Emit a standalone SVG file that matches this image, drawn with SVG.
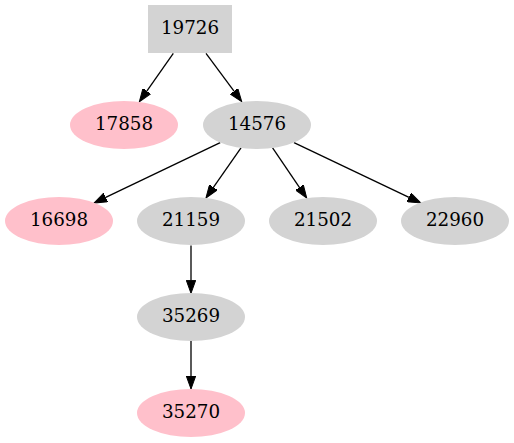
<svg xmlns="http://www.w3.org/2000/svg" width="514" height="443" viewBox="0 0 514 443">
<defs>
<style>
.g{fill:#d3d3d3}
.p{fill:#ffc0cb}
text{font-family:"DejaVu Serif",serif;font-size:18.3px;text-anchor:middle;fill:#000}
.e{stroke:#000;stroke-width:1.3;fill:none;marker-end:url(#a)}
</style>
<marker id="a" markerUnits="userSpaceOnUse" markerWidth="14" markerHeight="10" refX="0" refY="5" orient="auto">
<path d="M0,0.3 L13,5 L0,9.7 z" fill="#000" stroke="#000" stroke-width="1"/>
</marker>
</defs>
<rect width="514" height="443" fill="#fff"/>
<g id="edges">
<line class="e" x1="173.3" y1="53.3" x2="146.8" y2="91.1"/>
<line class="e" x1="206" y1="53.3" x2="234" y2="91.2"/>
<line class="e" x1="220.2" y1="142.6" x2="105.7" y2="197.4"/>
<line class="e" x1="241" y1="147.9" x2="213.4" y2="187.3"/>
<line class="e" x1="272.6" y1="147.9" x2="299.4" y2="187.3"/>
<line class="e" x1="294" y1="142.6" x2="409" y2="197.4"/>
<line class="e" x1="191" y1="245.5" x2="191" y2="280.3"/>
<line class="e" x1="191" y1="341" x2="191" y2="376"/>
</g>
<g id="n19726"><rect class="g" x="148" y="5" width="84" height="48"/><text x="190" y="34">19726</text></g>
<g id="n17858"><ellipse class="p" cx="124" cy="125" rx="54" ry="24"/><text x="124" y="130">17858</text></g>
<g id="n14576"><ellipse class="g" cx="257" cy="125" rx="54" ry="24"/><text x="257" y="130">14576</text></g>
<g id="n16698"><ellipse class="p" cx="59" cy="221" rx="54" ry="24"/><text x="59" y="226">16698</text></g>
<g id="n21159"><ellipse class="g" cx="191" cy="221" rx="54" ry="24"/><text x="191" y="226">21159</text></g>
<g id="n21502"><ellipse class="g" cx="323" cy="221" rx="54" ry="24"/><text x="323" y="226">21502</text></g>
<g id="n22960"><ellipse class="g" cx="455" cy="221" rx="54" ry="24"/><text x="455" y="226">22960</text></g>
<g id="n35269"><ellipse class="g" cx="191" cy="317" rx="54" ry="24"/><text x="191" y="322">35269</text></g>
<g id="n35270"><ellipse class="p" cx="191" cy="413" rx="54" ry="24"/><text x="191" y="418">35270</text></g>
</svg>
